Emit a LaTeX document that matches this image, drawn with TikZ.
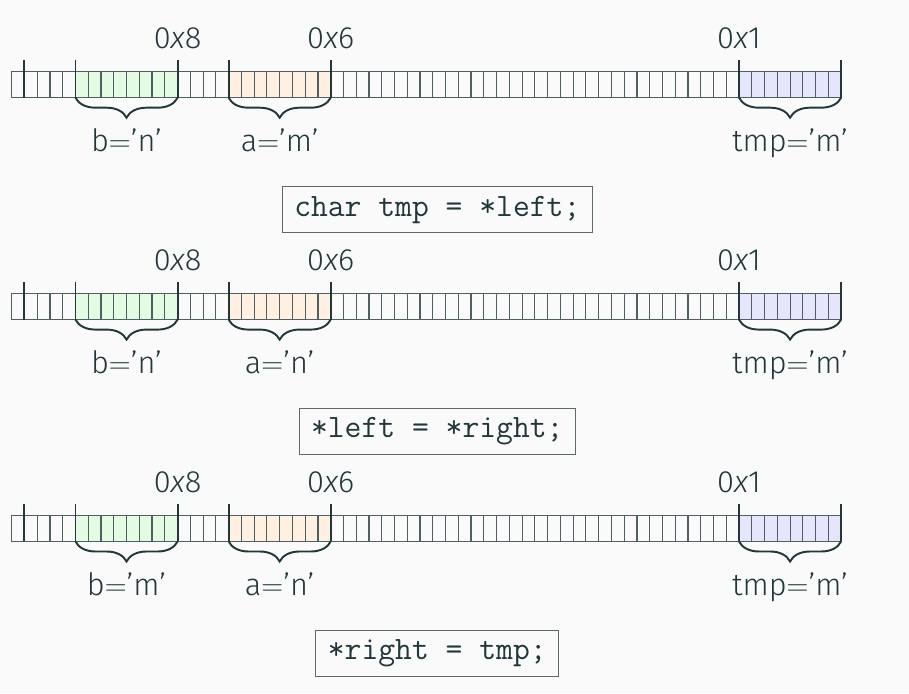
\documentclass[tikz,border=0pt]{standalone}
\usepackage{fontspec}
\setmainfont{Fira Sans Light}
\usetikzlibrary{decorations.pathreplacing}

\definecolor{mDark}{HTML}{23373B}
\definecolor{mBack}{HTML}{FAFAFA}
\definecolor{bFill}{HTML}{E3FBE3}
\definecolor{aFill}{HTML}{FFF0E1}
\definecolor{tFill}{HTML}{E5E5FC}

\tikzset{
  cell/.style={draw=mDark!80, line width=0.65pt},
  marker/.style={draw=mDark, line width=1.1pt},
  curly/.style={decorate, decoration={brace, mirror, amplitude=0.4cm}, draw=mDark, line width=1.1pt},
  addr/.style={text=mDark, anchor=base, inner sep=0pt, font=\fontsize{17.5}{19}\selectfont},
  var/.style={text=mDark, anchor=base, inner sep=0pt, font=\fontsize{17.5}{19}\selectfont},
  code/.style={draw=mDark!75, line width=0.6pt, text=mDark, inner xsep=0.24cm, inner ysep=0pt,
    minimum height=0.92cm, font=\ttfamily\fontsize{18.6}{20}\selectfont}
}

\begin{document}
\begin{tikzpicture}[x=0.02cm, y=0.02cm]
  \fill[mBack] (0,0) rectangle (909,693);
  \useasboundingbox (0,0) rectangle (909,693);
  % one memory row per step
  \foreach \bval/\aval/\stmt [count=\r from 0] in
      {n/m/{char tmp = *left;}, n/n/{*left = *right;}, m/n/{*right = tmp;}} {
    \pgfmathsetmacro{\by}{595.3-221.9*\r}
    % variables
    \fill[bFill] ({11.7+5*12.76},\by) rectangle ++(8*12.76,26);
    \fill[aFill] ({11.7+17*12.76},\by) rectangle ++(8*12.76,26);
    \fill[tFill] ({11.7+57*12.76},\by) rectangle ++(8*12.76,26);
    \foreach \i in {0,...,64}
      \draw[cell] ({11.7+\i*12.76},\by) rectangle ++(12.76,26);
    \foreach \k in {1,5,13,17,25,57,65}
      \draw[marker] ({11.7+\k*12.76},\by) -- ++(0,37.7);
    % addresses
    \node[addr] (addrB\r) at ({11.7+13*12.76},\by+49.4) {0\textit{x}8};
    \node[addr] (addrA\r) at ({11.7+25*12.76},\by+49.4) {0\textit{x}6};
    \node[addr] (addrT\r) at ({11.7+57*12.76},\by+49.4) {0\textit{x}1};
    % braces and values
    \draw[curly] ({11.7+5*12.76},\by) -- ({11.7+13*12.76},\by);
    \draw[curly] ({11.7+17*12.76},\by) -- ({11.7+25*12.76},\by);
    \draw[curly] ({11.7+57*12.76},\by) -- ({11.7+65*12.76},\by);
    \node[var] (varB\r) at ({11.7+9*12.76},\by-54) {b$=$'\bval'};
    \node[var] (varA\r) at ({11.7+21*12.76},\by-54) {a$=$'\aval'};
    \node[var] (varT\r) at ({11.7+61*12.76},\by-54) {tmp$=$'m'};
    % statement
    \node[code] (code\r) at (437.3,\by-112) {\stmt};
  }
\end{tikzpicture}
\end{document}
